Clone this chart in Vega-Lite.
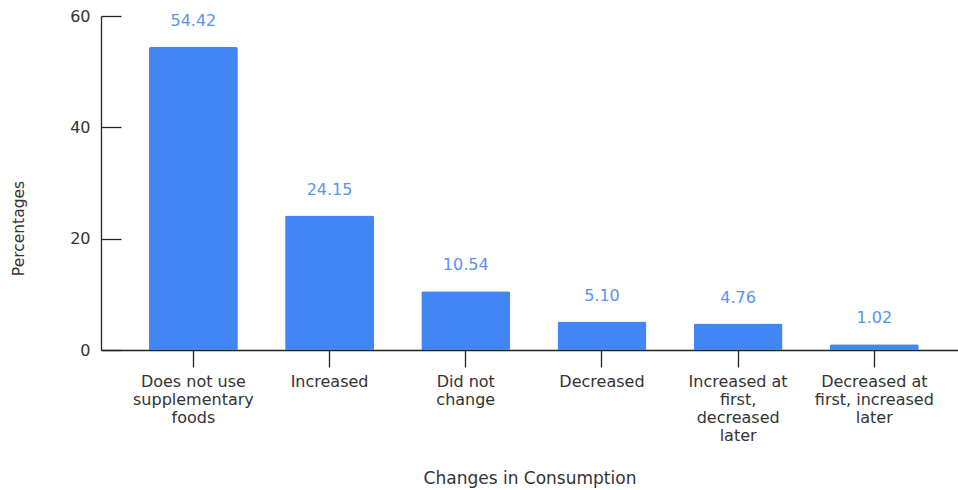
{
  "$schema": "https://vega.github.io/schema/vega-lite/v6.json",
  "width": 857,
  "height": 334,
  "autosize": {"type": "none"},
  "padding": {"left": 101, "top": 16, "right": 0, "bottom": 140},
  "background": "white",
  "config": {"view": {"stroke": null}, "font": "DejaVu Sans"},
  "data": {"values": [
    {"category": "Does not use supplementary foods", "value": 54.42},
    {"category": "Increased", "value": 24.15},
    {"category": "Did not change", "value": 10.54},
    {"category": "Decreased", "value": 5.10},
    {"category": "Increased at first, decreased later", "value": 4.76},
    {"category": "Decreased at first, increased later", "value": 1.02}
  ]},
  "encoding": {
    "x": {
      "field": "category", "type": "nominal", "sort": null,
      "scale": {"paddingInner": 0.347, "paddingOuter": 0.32, "align": 0.55},
      "axis": {
        "title": "Changes in Consumption",
        "titleFontSize": 17, "titleFontWeight": "normal", "titleColor": "#333",
        "titleY": 128, "titleBaseline": "middle",
        "labelAngle": 0, "labelFontSize": 16, "labelColor": "#333",
        "labelLineHeight": 18, "labelPadding": 6, "labelBaseline": "top",
        "tickSize": 17, "tickColor": "#222", "domainColor": "#222",
        "tickWidth": 1.3, "domainWidth": 1.3,
        "labelExpr": "datum.label == 'Does not use supplementary foods' ? ['Does not use','supplementary','foods'] : datum.label == 'Did not change' ? ['Did not','change'] : datum.label == 'Increased at first, decreased later' ? ['Increased at','first,','decreased','later'] : datum.label == 'Decreased at first, increased later' ? ['Decreased at','first, increased','later'] : datum.label"
      }
    },
    "y": {
      "field": "value", "type": "quantitative",
      "scale": {"domain": [0, 60]},
      "axis": {
        "title": "Percentages",
        "titleFontSize": 15.5, "titleFontWeight": "normal", "titleColor": "#333",
        "titleX": -83, "titleY": 212, "titleAngle": -90, "titleBaseline": "middle",
        "values": [0, 20, 40, 60], "grid": false,
        "labelFontSize": 16, "labelColor": "#333",
        "tickSize": -20, "labelPadding": 31,
        "tickColor": "#222", "domainColor": "#222",
        "tickWidth": 1.3, "domainWidth": 1.3
      }
    }
  },
  "layer": [
    {"mark": {"type": "bar", "color": "#4285F4", "cornerRadiusTopLeft": 2, "cornerRadiusTopRight": 2}},
    {"mark": {"type": "text", "dy": -26, "baseline": "middle", "fontSize": 16, "color": "#5a92f5"},
     "encoding": {"text": {"field": "value", "type": "quantitative", "format": ".2f"}}}
  ]
}
